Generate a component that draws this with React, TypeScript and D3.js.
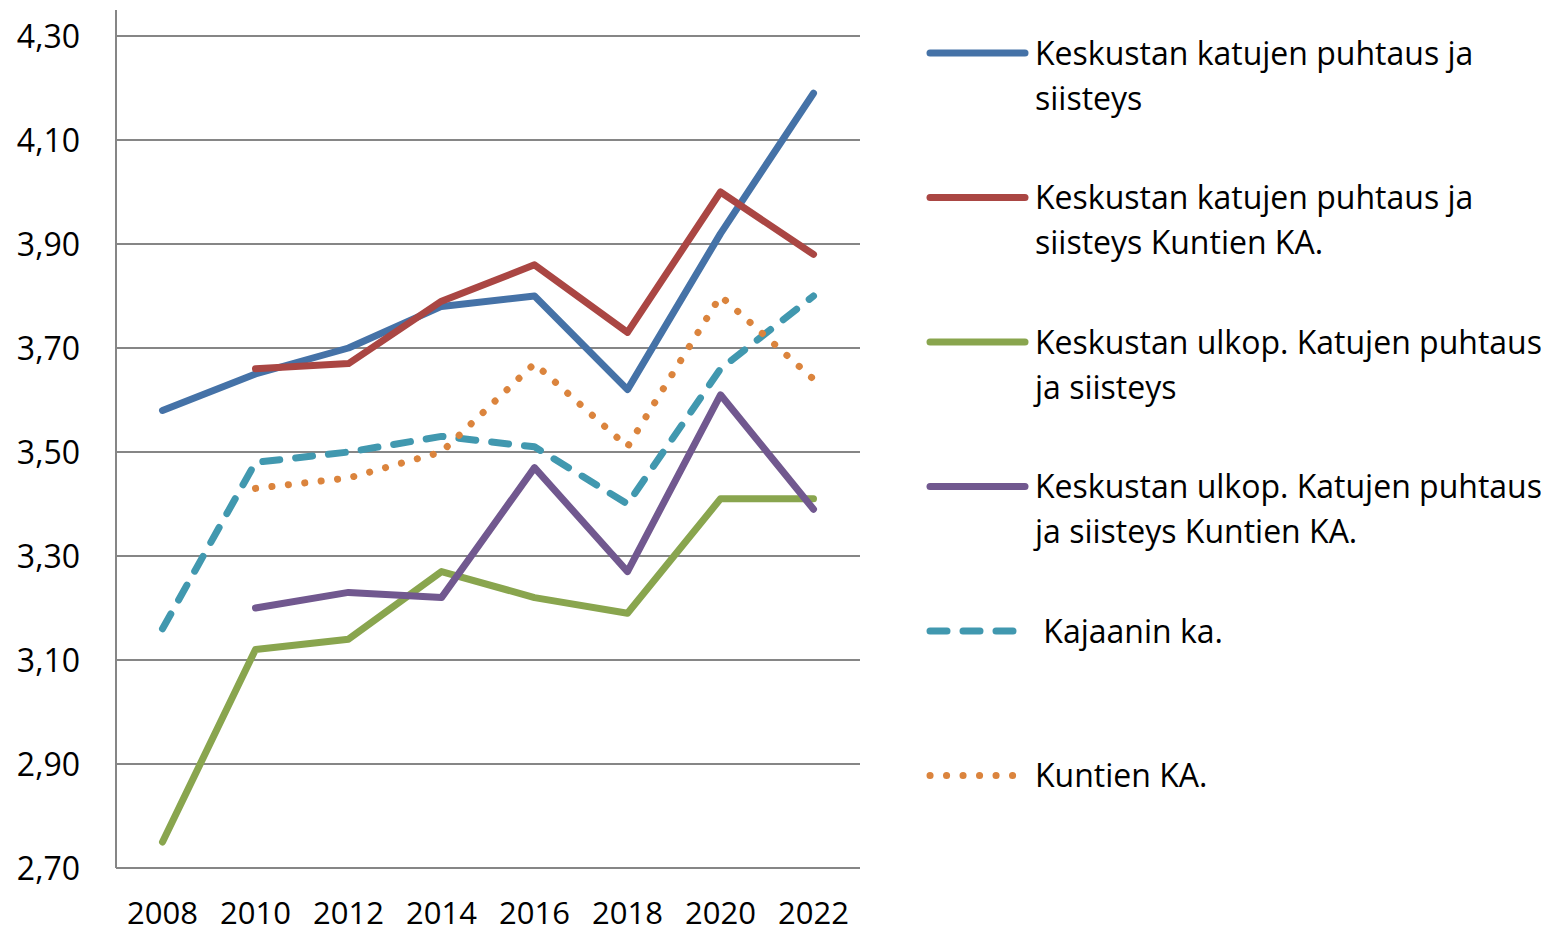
import React from "react";
import * as d3 from "d3";

const years = ["2008", "2010", "2012", "2014", "2016", "2018", "2020", "2022"];
const yTicks = [2.7, 2.9, 3.1, 3.3, 3.5, 3.7, 3.9, 4.1, 4.3];

const keskusta = [3.58, 3.65, 3.70, 3.78, 3.80, 3.62, 3.92, 4.19];
const keskustaKunnat = [null, 3.66, 3.67, 3.79, 3.86, 3.73, 4.00, 3.88];
const ulkop = [2.75, 3.12, 3.14, 3.27, 3.22, 3.19, 3.41, 3.41];
const ulkopKunnat = [null, 3.20, 3.23, 3.22, 3.47, 3.27, 3.61, 3.39];
const kajaani = [3.16, 3.48, 3.50, 3.53, 3.51, 3.40, 3.66, 3.80];
const kunnat = [null, 3.43, 3.45, 3.50, 3.67, 3.51, 3.80, 3.64];

const seriesNames = [
  ["Keskustan katujen puhtaus ja", "siisteys"],
  ["Keskustan katujen puhtaus ja", "siisteys Kuntien KA."],
  ["Keskustan ulkop. Katujen puhtaus", "ja siisteys"],
  ["Keskustan ulkop. Katujen puhtaus", "ja siisteys Kuntien KA."],
  ["\u00a0Kajaanin ka."],
  ["Kuntien KA."],
];
const seriesValues = [keskusta, keskustaKunnat, ulkop, ulkopKunnat, kajaani, kunnat];
const seriesColors = ["#4572A7", "#AA4643", "#89A54E", "#71588F", "#4198AF", "#DB843D"];
const seriesDash = [null, null, null, null, "17 16", "0.1 16.4"];

const FONT = "'Open Sans', sans-serif";

export default function App() {
  const left = 116, right = 860, top = 36, bottom = 868;
  const x = d3.scalePoint<string>().domain(years).range([left, right]).padding(0.5);
  const y = d3.scaleLinear().domain([2.7, 4.3]).range([bottom, top]);
  const line = d3
    .line<number | null>()
    .defined((d) => d != null)
    .x((_, i) => x(years[i]) as number)
    .y((d) => y(d as number));

  const legendX0 = 930, legendX1 = 1025, legendTextX = 1035;
  const legendY0 = 53, legendStep = 144.5, lineGap = 45;

  return (
    <svg width={1550} height={932} style={{ position: "absolute", left: 0, top: 0, background: "#fff" }}>
      {yTicks.map((t) => (
        <line key={"g" + t} x1={left} x2={right} y1={y(t)} y2={y(t)} stroke="#868686" strokeWidth={2} />
      ))}
      <line x1={left} x2={left} y1={10} y2={bottom} stroke="#868686" strokeWidth={2} />
      {yTicks.map((t) => (
        <text key={"yl" + t} x={80} y={y(t)} dy="0.36em" textAnchor="end" fontFamily={FONT} fontSize={32} fill="#000">
          {t.toFixed(2).replace(".", ",")}
        </text>
      ))}
      {years.map((yr) => (
        <text key={"xl" + yr} x={x(yr) as number} y={924} textAnchor="middle" fontFamily={FONT} fontSize={31} fill="#000">
          {yr}
        </text>
      ))}
      {seriesValues.map((vals, i) => (
        <path
          key={"s" + i}
          d={line(vals) || ""}
          fill="none"
          stroke={seriesColors[i]}
          strokeWidth={7}
          strokeLinecap="round"
          strokeLinejoin="round"
          strokeDasharray={seriesDash[i] || undefined}
        />
      ))}
      {seriesNames.map((lines, i) => {
        const ly = legendY0 + i * legendStep;
        return (
          <g key={"lg" + i}>
            <line
              x1={legendX0}
              x2={legendX1}
              y1={ly}
              y2={ly}
              stroke={seriesColors[i]}
              strokeWidth={7}
              strokeLinecap="round"
              strokeDasharray={seriesDash[i] || undefined}
            />
            {lines.map((t, j) => (
              <text key={j} x={legendTextX} y={ly + j * lineGap} dy="0.36em" fontFamily={FONT} fontSize={32} fill="#000">
                {t}
              </text>
            ))}
          </g>
        );
      })}
    </svg>
  );
}
